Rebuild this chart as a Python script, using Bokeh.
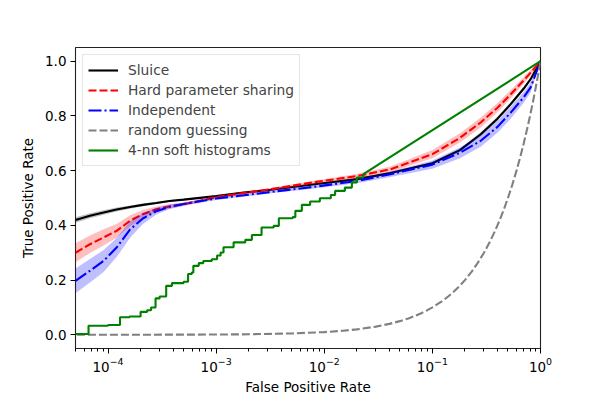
from bokeh.plotting import figure
from bokeh.models import Range1d, FixedTicker, NumeralTickFormatter, Legend, LegendItem
from bokeh.embed import file_html
from bokeh.resources import INLINE

# ---- data ----
fpr = [5e-5, 6.8e-5, 9.1e-5, 1.2e-4, 1.6e-4, 2.1e-4, 2.8e-4, 3.7e-4, 5e-4, 1e-3,
       1.8e-3, 3.2e-3, 8.5e-3, 0.02, 0.041, 0.1, 0.18, 0.28, 0.4, 0.53, 0.7, 0.81, 1.0]

sluice = [0.42, 0.435, 0.447, 0.458, 0.467, 0.475, 0.482, 0.489, 0.494, 0.507,
          0.52, 0.53, 0.551, 0.569, 0.591, 0.627, 0.675, 0.733, 0.79, 0.843, 0.9, 0.934, 1.0]
sluice_err = [0.01, 0.009, 0.008, 0.007, 0.006, 0.005, 0.004, 0.004, 0.003, 0.003,
              0.003, 0.003, 0.003, 0.003, 0.004, 0.005, 0.006, 0.007, 0.007, 0.007, 0.006, 0.005, 0.0]

hps = [0.30, 0.331, 0.356, 0.38, 0.417, 0.441, 0.459, 0.469, 0.477, 0.503,
       0.518, 0.532, 0.559, 0.58, 0.605, 0.66, 0.72, 0.776, 0.83, 0.879, 0.93, 0.958, 1.0]
hps_err = [0.035, 0.032, 0.03, 0.025, 0.02, 0.015, 0.01, 0.008, 0.006, 0.005,
           0.005, 0.005, 0.006, 0.008, 0.01, 0.015, 0.017, 0.018, 0.017, 0.015, 0.012, 0.01, 0.0]

indep = [0.197, 0.234, 0.27, 0.319, 0.385, 0.425, 0.452, 0.468, 0.478, 0.498,
         0.51, 0.522, 0.542, 0.562, 0.587, 0.622, 0.665, 0.709, 0.76, 0.812, 0.868, 0.904, 1.0]
indep_err = [0.045, 0.043, 0.04, 0.035, 0.03, 0.02, 0.012, 0.008, 0.006, 0.005,
             0.005, 0.005, 0.006, 0.008, 0.01, 0.015, 0.02, 0.022, 0.022, 0.022, 0.02, 0.018, 0.0]

random_x = [1e-5, 1e-4, 1e-3, 2e-3, 5e-3, 0.01, 0.015, 0.02, 0.03, 0.04, 0.05, 0.06, 0.07,
            0.08, 0.09, 0.1, 0.12, 0.14, 0.16, 0.18, 0.2, 0.23, 0.26, 0.3, 0.34, 0.38,
            0.42, 0.46, 0.5, 0.55, 0.6, 0.65, 0.7, 0.75, 0.8, 0.85, 0.9, 0.95, 1.0]
random_y = [1e-5, 1e-4, 1e-3, 2e-3, 5e-3, 0.01, 0.015, 0.02, 0.03, 0.04, 0.05, 0.06, 0.07,
            0.08, 0.09, 0.1, 0.12, 0.14, 0.16, 0.18, 0.2, 0.23, 0.26, 0.3, 0.34, 0.38,
            0.42, 0.46, 0.5, 0.55, 0.6, 0.65, 0.7, 0.75, 0.8, 0.85, 0.9, 0.95, 1.0]

knn_step_x = [4e-5, 6.6e-5, 1.0e-4, 1.29e-4, 1.58e-4, 2.0e-4, 2.3e-4, 2.5e-4, 2.75e-4, 3.0e-4,
              3.45e-4, 3.9e-4, 5.0e-4, 5.5e-4, 5.95e-4, 6.15e-4, 6.9e-4, 7.6e-4, 9.1e-4, 1.02e-3,
              1.1e-3, 1.17e-3, 1.45e-3, 1.86e-3, 2.14e-3, 2.63e-3, 3.4e-3, 3.8e-3, 5.1e-3, 5.4e-3,
              6.2e-3, 7.4e-3, 9.1e-3, 1.15e-2, 1.26e-2, 1.55e-2, 1.8e-2, 2.0e-2, 2.3e-2]
knn_step_y = [0.003, 0.033, 0.036, 0.064, 0.067, 0.084, 0.09, 0.10, 0.133, 0.14,
              0.179, 0.189, 0.194, 0.222, 0.228, 0.252, 0.262, 0.27, 0.276, 0.29,
              0.301, 0.32, 0.338, 0.347, 0.365, 0.392, 0.398, 0.426, 0.43, 0.453,
              0.475, 0.487, 0.499, 0.511, 0.526, 0.538, 0.557, 0.575, 0.587]
knn_end_x = 1.0
knn_end_y = 1.0

# staircase vertices for the ROC curve
knn_x, knn_y = [], []
for i, (sx, sy) in enumerate(zip(knn_step_x, knn_step_y)):
    if i > 0:
        knn_x.append(sx)
        knn_y.append(knn_step_y[i - 1])
    knn_x.append(sx)
    knn_y.append(sy)
knn_x.append(knn_end_x)
knn_y.append(knn_end_y)

FONT = "DejaVu Sans"
FS = "13.5px"

p = figure(width=600, height=400, x_axis_type="log",
           x_range=Range1d(5e-5, 1.0), y_range=Range1d(-0.05, 1.05),
           output_backend="svg", toolbar_location=None,
           min_border_left=75, min_border_right=60, min_border_top=47, min_border_bottom=52)
p.background_fill_color = "white"
p.border_fill_color = "white"
p.outline_line_color = "#222222"
p.outline_line_width = 1.1
p.xgrid.visible = False
p.ygrid.visible = False

def band(y, err, color, alpha):
    lo = [a - b for a, b in zip(y, err)]
    hi = [a + b for a, b in zip(y, err)]
    p.varea(x=fpr, y1=lo, y2=hi, fill_color=color, fill_alpha=alpha)

band(sluice, sluice_err, "black", 0.25)
r_sl = p.line(fpr, sluice, line_color="black", line_width=2.1)
band(hps, hps_err, "red", 0.25)
r_hps = p.line(fpr, hps, line_color="red", line_width=2.1, line_dash="8 3")
band(indep, indep_err, "blue", 0.25)
r_ind = p.line(fpr, indep, line_color="blue", line_width=2.1, line_dash="13 3 2 3")
r_rand = p.line(random_x, random_y, line_color="gray", line_width=2.1, line_dash="8 3")
r_knn = p.line(knn_x, knn_y, line_color="green", line_width=2.1)

legend = Legend(items=[
    LegendItem(label="Sluice", renderers=[r_sl]),
    LegendItem(label="Hard parameter sharing", renderers=[r_hps]),
    LegendItem(label="Independent", renderers=[r_ind]),
    LegendItem(label="random guessing", renderers=[r_rand]),
    LegendItem(label="4-nn soft histograms", renderers=[r_knn]),
], location="top_left")
legend.margin = 7
legend.padding = 5
legend.spacing = 0
legend.label_height = 20
legend.glyph_height = 20
legend.glyph_width = 30
legend.label_standoff = 10
legend.label_text_font = FONT
legend.label_text_font_size = "13.8px"
legend.border_line_color = "#cccccc"
legend.border_line_width = 1
legend.background_fill_alpha = 0.8
p.add_layout(legend)

for ax in (p.xaxis[0], p.yaxis[0]):
    ax.axis_line_color = None
    ax.major_tick_line_color = "black"
    ax.minor_tick_line_color = "black"
    ax.major_tick_in = 0
    ax.major_tick_out = 5
    ax.minor_tick_in = 0
    ax.minor_tick_out = 3
    ax.major_label_text_font = FONT
    ax.major_label_text_font_size = FS
    ax.major_label_text_color = "black"
    ax.axis_label_text_font = FONT
    ax.axis_label_text_font_size = FS
    ax.axis_label_text_font_style = "normal"
    ax.axis_label_text_color = "black"

p.xaxis.axis_label = "False Positive Rate"
p.yaxis.axis_label = "True Positive Rate"
p.yaxis.ticker = FixedTicker(ticks=[0.0, 0.2, 0.4, 0.6, 0.8, 1.0])
p.yaxis.formatter = NumeralTickFormatter(format="0.0")
p.yaxis.minor_tick_line_color = None
p.xaxis.major_label_standoff = 3
p.yaxis.major_label_standoff = 4
p.xaxis.axis_label_standoff = 4
p.yaxis.axis_label_standoff = 6

open("out.html", "w").write(file_html(p, INLINE))
